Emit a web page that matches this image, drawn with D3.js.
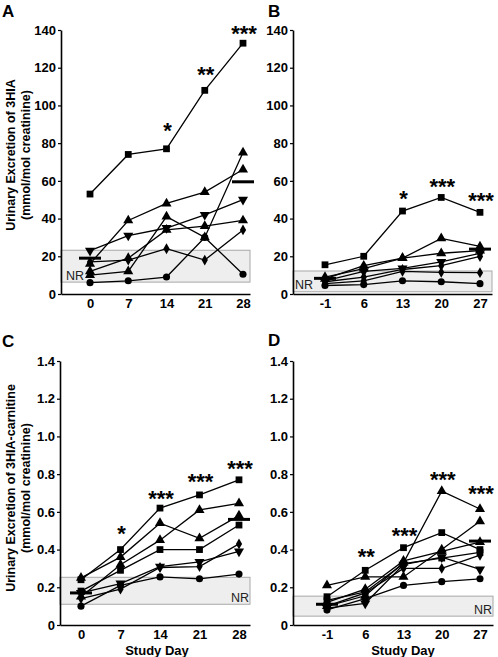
<!DOCTYPE html>
<html><head><meta charset="utf-8">
<script src="https://cdn.jsdelivr.net/npm/d3@7"></script>
<style>
body{margin:0;background:#fff;}
svg text{font-family:"Liberation Sans",Arial,sans-serif;}
</style></head>
<body><svg id="chart" width="498" height="657"></svg>
<script>
// ---------- DATA ----------
const daysAC = [0, 7, 14, 21, 28];
const daysBD = [-1, 6, 13, 20, 27];

// Panel A: urinary 3HIA, group 1
const markersA = ["square","triangle","triangleDown","triangle","triangle","diamond","circle"];
const valuesA = [
  [53, 74, 77, 108, 133],
  [16, 39, 48, 54, 66],
  [23, 31, 35, 42, 50],
  [12, 19, 34, 36, 39],
  [10, 12, 41, 30, 75],
  [17, 18, 24, 18, 34],
  [6, 7, 9, 30, 10.5]
];
const meanA = [{day: 0, v: 19}, {day: 28, v: 59.5}];
const nrA = [6.3, 23.2];
const sigA = [{day: 14, v: 89, t: "*"}, {day: 21, v: 118.8, t: "**"}, {day: 28, v: 140.5, t: "***"}];

// Panel B: urinary 3HIA, group 2
const markersB = ["square","triangle","triangle","triangleDown","diamond","diamond","circle"];
const valuesB = [
  [15.5, 20, 44, 51.2, 43.3],
  [8, 15, 19, 29.5, 25.2],
  [9, 13.5, 19, 21.6, 23],
  [7, 12, 13.6, 17, 21.6],
  [6.5, 9, 13, 15, 19.9],
  [5.5, 7, 12, 11.5, 11.3],
  [4.5, 5, 7, 6.5, 5.5]
];
const meanB = [{day: -1, v: 8.3}, {day: 27, v: 23.8}];
const nrB = [1.2, 12.2];
const sigB = [{day: 13, v: 52.8, t: "*"}, {day: 20, v: 59.4, t: "***"}, {day: 27, v: 52, t: "***"}];

// Panel C: urinary 3HIA-carnitine, group 1
const markersC = ["square","triangle","triangle","square","triangleDown","diamond","circle"];
const valuesC = [
  [0.24, 0.40, 0.62, 0.69, 0.77],
  [0.25, 0.36, 0.54, 0.46, 0.58],
  [0.15, 0.32, 0.45, 0.61, 0.645],
  [0.18, 0.29, 0.40, 0.40, 0.53],
  [0.17, 0.22, 0.31, 0.335, 0.39],
  [0.14, 0.19, 0.305, 0.31, 0.43],
  [0.10, 0.21, 0.255, 0.245, 0.27]
];
const meanC = [{day: 0, v: 0.17}, {day: 28, v: 0.56}];
const nrC = [0.11, 0.253];
const sigC = [{day: 7, v: 0.509, t: "*"}, {day: 14, v: 0.694, t: "***"}, {day: 21, v: 0.784, t: "***"}, {day: 28, v: 0.853, t: "***"}];

// Panel D: urinary 3HIA-carnitine, group 2
const markersD = ["triangle","triangle","square","triangle","diamond","triangleDown","circle","square"];
const valuesD = [
  [0.10, 0.155, 0.33, 0.71, 0.615],
  [0.21, 0.255, 0.255, 0.40, 0.55],
  [0.15, 0.29, 0.41, 0.49, 0.40],
  [0.12, 0.19, 0.34, 0.39, 0.44],
  [0.10, 0.17, 0.30, 0.30, 0.37],
  [0.09, 0.115, 0.32, 0.36, 0.295],
  [0.08, 0.14, 0.21, 0.23, 0.245],
  [0.13, 0.175, 0.325, 0.355, 0.385]
];
const meanD = [{day: -1, v: 0.11}, {day: 27, v: 0.445}];
const nrD = [0.047, 0.153];
const sigD = [{day: 6, v: 0.387, t: "**"}, {day: 13, v: 0.498, t: "***"}, {day: 20, v: 0.797, t: "***"}, {day: 27, v: 0.72, t: "***"}];

const ticks3HIA = [0, 20, 40, 60, 80, 100, 120, 140];
const ticksCarn = [0, 0.2, 0.4, 0.6, 0.8, 1.0, 1.2, 1.4];
const titleTop = ["Urinary Excretion of 3HIA", "(mmol/mol creatinine)"];
const titleBottom = ["Urinary Excretion of 3HIA-carnitine", "(mmol/mol creatinine)"];

// ---------- DRAW ----------
const svg = d3.select("#chart");
const symbols = {
  square: d3.symbol().type(d3.symbolSquare).size(46),
  triangle: d3.symbol().type(d3.symbolTriangle).size(44),
  triangleDown: d3.symbol().type(d3.symbolTriangle).size(44),
  diamond: d3.symbol().type(d3.symbolDiamond).size(34),
  circle: d3.symbol().type(d3.symbolCircle).size(40)
};

function panel(o) {
  const g = svg.append("g");
  const x = d3.scaleLinear().domain(o.xDom).range(o.xRange);
  const y = d3.scaleLinear().domain([0, o.yMax]).range(o.yRange);

  // NR band
  g.append("rect")
    .attr("x", o.xRange[0]).attr("width", o.xRange[1] - o.xRange[0])
    .attr("y", y(o.nr[1])).attr("height", y(o.nr[0]) - y(o.nr[1]))
    .attr("fill", "#eeeeee").attr("stroke", "#a8a8a8").attr("stroke-width", 1);
  g.append("text").text("NR")
    .attr("x", o.nrRight ? o.xRange[1] - 1 : o.xRange[0] + (o.nrPad || 5))
    .attr("y", y(o.nr[0]) - 2.5)
    .attr("text-anchor", o.nrRight ? "end" : "start")
    .attr("font-size", 12.5).attr("fill", "#222");

  // axes
  const ya = d3.axisLeft(y).tickValues(o.yTicks).tickSize(3).tickPadding(2).tickSizeOuter(0)
    .tickFormat(o.yFmt);
  const yg = g.append("g").attr("transform", `translate(${o.xRange[0]},0)`).call(ya);
  yg.select(".domain").attr("stroke-width", 1.6);
  yg.selectAll(".tick line").attr("stroke-width", 1.2);
  yg.selectAll("text").attr("font-size", 13).attr("font-weight", "bold").attr("fill", "#000")
    .attr("font-family", "Liberation Sans, Arial, sans-serif");

  const xa = d3.axisBottom(x).tickValues(o.days).tickSize(0).tickPadding(5).tickSizeOuter(0)
    .tickFormat(d => String(d));
  const xg = g.append("g").attr("transform", `translate(0,${o.yRange[0]})`).call(xa);
  xg.select(".domain").attr("stroke-width", 1.6);
  xg.selectAll("text").attr("font-size", 13).attr("font-weight", "bold").attr("fill", "#000")
    .attr("font-family", "Liberation Sans, Arial, sans-serif");

  // lines
  const line = d3.line().x((d, i) => x(o.days[i])).y(d => y(d));
  o.values.forEach((vals, k) => {
    g.append("path").attr("d", line(vals)).attr("fill", "none")
      .attr("stroke", "#000").attr("stroke-width", 1.3);
  });
  o.values.forEach((vals, k) => {
    const m = o.markers[k];
    vals.forEach((v, i) => {
      g.append("path").attr("d", symbols[m]())
        .attr("transform", `translate(${x(o.days[i])},${y(v)})` + (m === "triangleDown" ? " rotate(180)" : ""))
        .attr("fill", "#000");
    });
  });

  // mean bars
  o.mean.forEach(d => {
    g.append("line")
      .attr("x1", x(d.day) - 11).attr("x2", x(d.day) + 11)
      .attr("y1", y(d.v)).attr("y2", y(d.v))
      .attr("stroke", "#000").attr("stroke-width", 3);
  });

  // significance
  o.sig.forEach(d => {
    g.append("text").text(d.t)
      .attr("x", x(d.day) + 1).attr("y", y(d.v) + 12)
      .attr("text-anchor", "middle").attr("font-size", 22).attr("font-weight", "bold");
  });

  // panel letter
  g.append("text").text(o.letter).attr("x", o.letterPos[0]).attr("y", o.letterPos[1])
    .attr("font-size", 17).attr("font-weight", "bold");

  // titles
  if (o.title) {
    const cy = o.titleCy;
    o.title.forEach((t, i) => {
      g.append("text").text(t)
        .attr("transform", `translate(${i === 0 ? 14.5 : 30},${cy}) rotate(-90)`)
        .attr("text-anchor", "middle").attr("font-size", 12.5).attr("font-weight", "bold");
    });
  }
  if (o.xTitle) {
    g.append("text").text(o.xTitle).attr("x", o.xTitlePos[0]).attr("y", o.xTitlePos[1])
      .attr("text-anchor", "middle").attr("font-size", 13).attr("font-weight", "bold");
  }
}

const fmt1 = d => d === 0 ? "0" : d3.format(".1f")(d);
const fmt0 = d3.format("d");

panel({letter: "A", letterPos: [2, 17], days: daysAC, xDom: [-5.31, 29.28], xRange: [61, 250],
  yMax: 140, yRange: [294, 30], yTicks: ticks3HIA, yFmt: fmt0,
  values: valuesA, markers: markersA, mean: meanA, nr: nrA, sig: sigA,
  title: titleTop, titleCy: 155});
panel({letter: "B", letterPos: [268, 17], days: daysBD, xDom: [-6.78, 29.17], xRange: [293, 492],
  yMax: 140, yRange: [294, 30], yTicks: ticks3HIA, yFmt: fmt0, nrPad: 2,
  values: valuesB, markers: markersB, mean: meanB, nr: nrB, sig: sigB});
panel({letter: "C", letterPos: [2, 347], days: daysAC, xDom: [-3.72, 29.95], xRange: [60, 250],
  yMax: 1.4, yRange: [625, 361], yTicks: ticksCarn, yFmt: fmt1, nrRight: true,
  values: valuesC, markers: markersC, mean: meanC, nr: nrC, sig: sigC,
  title: titleBottom, titleCy: 488, xTitle: "Study Day", xTitlePos: [157, 654.5]});
panel({letter: "D", letterPos: [268, 346], days: daysBD, xDom: [-7.22, 29.38], xRange: [293, 493],
  yMax: 1.4, yRange: [625, 361], yTicks: ticksCarn, yFmt: fmt1, nrRight: true,
  values: valuesD, markers: markersD, mean: meanD, nr: nrD, sig: sigD,
  xTitle: "Study Day", xTitlePos: [403, 654.5]});
</script></body></html>
